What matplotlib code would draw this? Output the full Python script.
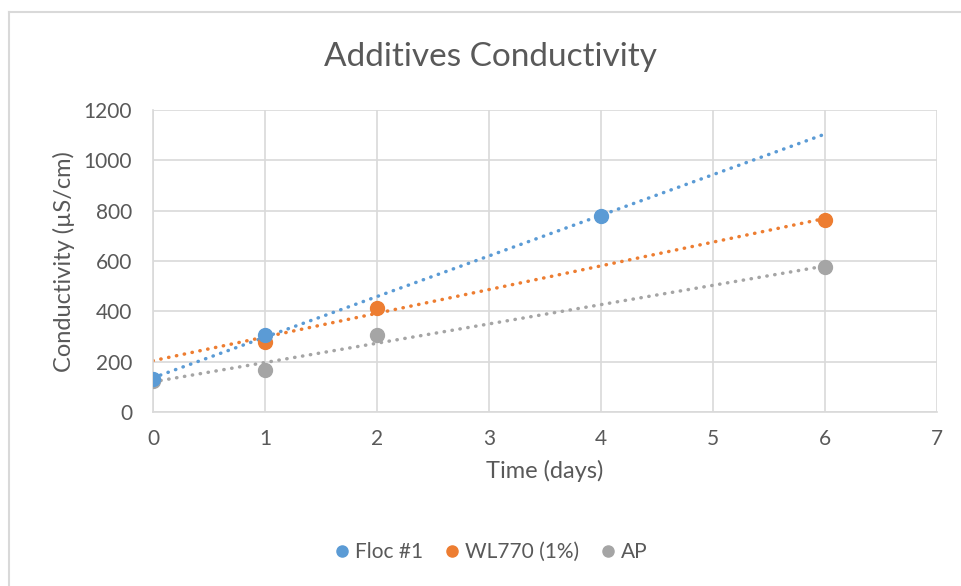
import numpy as np
import matplotlib.pyplot as plt
from matplotlib.lines import Line2D

plt.rcParams['font.family'] = ['Lato', 'DejaVu Sans']

# data
floc_x = [0, 1, 4]
floc_y = [130, 305, 780]
wl_x = [1, 2, 6]
wl_y = [280, 415, 765]
ap_x = [0, 1, 2, 6]
ap_y = [125, 165, 305, 575]

series = [
    ('Floc #1', floc_x, floc_y, '#5b9bd5'),
    ('WL770 (1%)', wl_x, wl_y, '#ed7d31'),
    ('AP', ap_x, ap_y, '#a5a5a5'),
]

txt = '#595959'
fig = plt.figure(figsize=(9.62, 5.86), dpi=100)
ax = fig.add_axes([0.159, 0.297, 0.815, 0.515])

xs = np.array([0, 6])
for name, x, y, c in series:
    # linear trendline, drawn over the 0-6 range like the original
    k, b = np.polyfit(x, y, 1)
    ax.plot(xs, k * xs + b, color=c, lw=2.5, ls=(0, (0.1, 2.2)),
            dash_capstyle='round', zorder=2)
for name, x, y, c in series[::-1]:
    ax.plot(x, y, 'o', color=c, ms=10, label=name, zorder=3)

ax.set_xlim(0, 7)
ax.set_ylim(0, 1200)
ax.set_xticks(range(0, 8))
ax.set_yticks(range(0, 1201, 200))
ax.grid(True, color='#d9d9d9', lw=1.2)
ax.set_axisbelow(True)
for s in ['top', 'right']:
    ax.spines[s].set_visible(False)
for s in ['left', 'bottom']:
    ax.spines[s].set_color('#d9d9d9')
    ax.spines[s].set_linewidth(1.2)
ax.tick_params(length=0, labelsize=15, colors=txt)
ax.tick_params(axis='y', pad=15)
ax.tick_params(axis='x', pad=12)

fig.suptitle('Additives Conductivity', fontsize=24, color=txt, x=0.51, y=0.903,
             va='center')
ax.set_xlabel('Time (days)', fontsize=17, color=txt, labelpad=8)
ax.set_ylabel('Conductivity (µS/cm)', fontsize=17, color=txt, labelpad=6)

h, l = ax.get_legend_handles_labels()
fig.legend(h[::-1], l[::-1], loc='center', bbox_to_anchor=(0.51, 0.058), ncol=3,
           frameon=False, fontsize=15, labelcolor=txt, handletextpad=0.2,
           handlelength=0.8, columnspacing=1.0, markerscale=0.8)

# chart border (cropped on right and bottom)
fig.add_artist(Line2D([0.0094, 1.0], [0.979, 0.979], color='#d9d9d9', lw=1.5))
fig.add_artist(Line2D([0.0094, 0.0094], [0.0, 0.979], color='#d9d9d9', lw=1.5))

plt.savefig('out.png', dpi=100)
